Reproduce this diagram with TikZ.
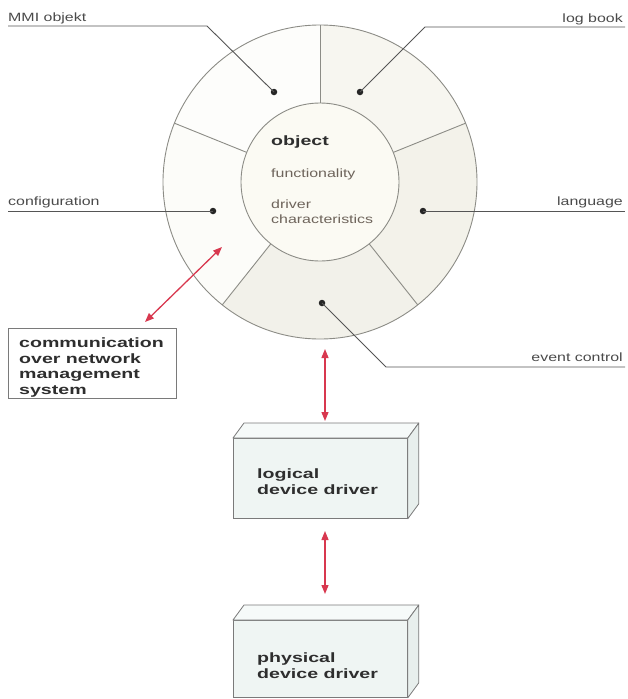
\documentclass[tikz,border=0pt]{standalone}
\usepackage{fontspec}
\usetikzlibrary{arrows.meta,calc}
\newfontfamily\labfont{Liberation Sans}[FakeStretch=1.33]
\newfontfamily\boldfont{Liberation Sans Bold}[FakeStretch=1.45]
\definecolor{segTL}{HTML}{FDFDFB}
\definecolor{segTR}{HTML}{F7F6F0}
\definecolor{segR}{HTML}{F3F2EA}
\definecolor{segB}{HTML}{F2F1EA}
\definecolor{segL}{HTML}{FCFCF9}
\definecolor{innerfill}{HTML}{FBFAF3}
\definecolor{ringline}{HTML}{8C8C86}
\definecolor{ink}{HTML}{4A4A4A}
\definecolor{innerink}{HTML}{6E645B}
\definecolor{darkink}{HTML}{2E2E2E}
\definecolor{leadgray}{HTML}{555555}
\definecolor{arrowred}{HTML}{D8384F}
\definecolor{boxfill}{HTML}{EFF5F3}
\definecolor{boxtop}{HTML}{F6FAF9}
\definecolor{boxside}{HTML}{E8EFED}
\definecolor{boxedge}{HTML}{7A7A7A}
\tikzset{
  lbl/.style={font=\labfont\fontsize{12}{14}\selectfont, text=ink, inner sep=0pt},
  innerlbl/.style={font=\labfont\fontsize{12}{15}\selectfont, text=innerink, inner sep=0pt, align=left},
  bigbold/.style={font=\boldfont\fontsize{13.5}{15.5}\selectfont, text=darkink, inner sep=0pt, align=left},
  leader/.style={draw=leadgray, line width=0.9pt},
  ring/.style={draw=ringline, line width=0.9pt},
  dotmark/.style={circle, fill=black!85, inner sep=0pt, minimum size=6.5pt},
  redarrow/.style={draw=arrowred, line width=1.3pt, {Triangle[length=9pt,width=7pt]}-{Triangle[length=9pt,width=7pt]}},
  frontface/.style={draw=boxedge, fill=boxfill, line width=0.8pt, inner sep=0pt, minimum width=174pt, anchor=north west},
  sideface/.style={draw=boxedge, line width=0.8pt, line join=round},
  netbox/.style={draw=boxedge, line width=0.8pt, fill=white, inner sep=0pt, minimum width=168pt, minimum height=70pt, anchor=north west}
}
\newcommand{\segment}[3]{%
  \fill[#3] ($(C)+(#1:157)$) arc[start angle=#1, end angle=#2, radius=157]
    -- ($(C)+(#2:79)$) arc[start angle=#2, end angle=#1, radius=79] -- cycle;}
\begin{document}
\begin{tikzpicture}[x=1pt,y=1pt]
\useasboundingbox (0,0) rectangle (627,-699);
\coordinate (C) at (320,-182);
% segments
\segment{90}{158}{segTL}
\segment{158}{231.5}{segL}
\segment{231.5}{308.5}{segB}
\segment{308.5}{382}{segR}
\segment{22}{90}{segTR}
% outlines
\node[circle, ring, minimum size=314pt, inner sep=0pt] (outer) at (C) {};
\foreach \a in {90,158,231.5,308.5,22}{
  \draw[ring] ($(C)+(\a:79)$) -- ($(C)+(\a:157)$);
}
\node[circle, ring, fill=innerfill, minimum size=158pt, inner sep=0pt] (inner) at (C) {};
% inner texts (base anchor = last line)
\node[bigbold, anchor=base west] (obj) at (271,-145) {object};
\node[innerlbl, anchor=base west] (func) at (271,-177) {functionality};
\node[innerlbl, anchor=base west] (drv) at (271,-223) {driver\\characteristics};
% dots
\node[dotmark] (dMMI) at (274,-92) {};
\node[dotmark] (dLog) at (360,-92) {};
\node[dotmark] (dConf) at (213,-211) {};
\node[dotmark] (dLang) at (423,-211) {};
\node[dotmark] (dEvt) at (322,-303) {};
% leader coordinates
\coordinate (mmiL) at (8,-26);
\coordinate (mmiK) at (207,-26);
\coordinate (logR) at (625,-27);
\coordinate (logK) at (425,-27);
\coordinate (confL) at (8,-211);
\coordinate (langR) at (625,-211);
\coordinate (evtK) at (386,-367);
\coordinate (evtR) at (625,-367);
\draw[leader] (mmiL) -- (mmiK) -- (dMMI.center);
\draw[leader] (logR) -- (logK) -- (dLog.center);
\draw[leader] (confL) -- (dConf.center);
\draw[leader] (dLang.center) -- (langR);
\draw[leader] (dEvt.center) -- (evtK) -- (evtR);
% labels
\node[lbl, anchor=base west] (tMMI) at (8,-21) {MMI objekt};
\node[lbl, anchor=base east] (tLog) at (623,-22) {log book};
\node[lbl, anchor=base west] (tConf) at (8,-205) {configuration};
\node[lbl, anchor=base east] (tLang) at (623,-205) {language};
\node[lbl, anchor=base east] (tEvt) at (623,-361) {event control};
% network box
\node[netbox] (net) at (8,-328) {};
\node[bigbold, anchor=base west] (nettext) at (19,-394) {communication\\over network\\management\\system};
% logical device driver
\node[frontface, minimum height=80pt] (ldd) at (233,-438) {};
\filldraw[sideface, fill=boxtop] (ldd.north west) -- ++(11,15) -- ($(ldd.north east)+(11,15)$) -- (ldd.north east) -- cycle;
\filldraw[sideface, fill=boxside] (ldd.north east) -- ++(11,15) -- ($(ldd.south east)+(11,15)$) -- (ldd.south east) -- cycle;
\node[bigbold, anchor=base west] (lddt) at (257,-494) {logical\\device driver};
% physical device driver
\node[frontface, minimum height=77pt] (pdd) at (233,-620) {};
\filldraw[sideface, fill=boxtop] (pdd.north west) -- ++(11,15) -- ($(pdd.north east)+(11,15)$) -- (pdd.north east) -- cycle;
\filldraw[sideface, fill=boxside] (pdd.north east) -- ++(11,15) -- ($(pdd.south east)+(11,15)$) -- (pdd.south east) -- cycle;
\node[bigbold, anchor=base west] (pddt) at (257,-678) {physical\\device driver};
% arrows
\coordinate (a1s) at (325,-349);
\coordinate (a1e) at (325,-421);
\coordinate (a2s) at (325,-531);
\coordinate (a2e) at (325,-594);
\coordinate (a3s) at (222,-247);
\coordinate (a3e) at (145,-322);
\draw[redarrow] (a1s) -- (a1e);
\draw[redarrow] (a2s) -- (a2e);
\draw[redarrow] (a3s) -- (a3e);
\end{tikzpicture}
\end{document}
